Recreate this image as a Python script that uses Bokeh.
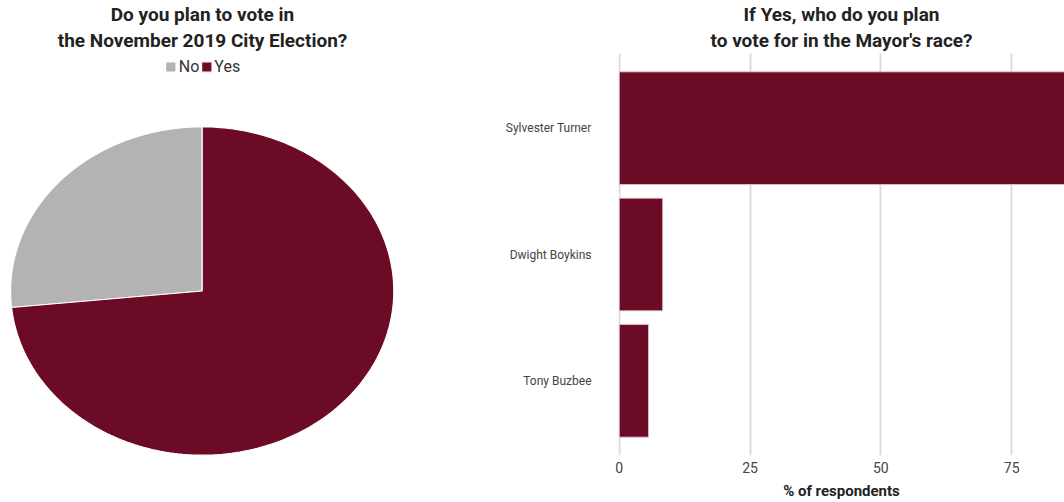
import numpy as np
from bokeh.plotting import figure
from bokeh.layouts import row
from bokeh.models import (Range1d, Legend, LegendItem, FixedTicker, Title,
                          ColumnDataSource)
from bokeh.embed import file_html
from bokeh.resources import INLINE

# ---------------- data ----------------
vote_labels = ["No", "Yes"]
vote_shares = [26.6, 73.4]
vote_colors = ["#b3b3b3", "#6c0b25"]

candidates = ["Sylvester Turner", "Dwight Boykins", "Tony Buzbee"]
candidate_pct = [86.1, 8.3, 5.6]
x_ticks = [0, 25, 50, 75]

pie_title = ["Do you plan to vote in", "the November 2019 City Election?"]
bar_title = ["If Yes, who do you plan", "to vote for in the Mayor's race?"]
x_label = "% of respondents"

FONT = "Roboto"
BAR_COLOR = "#6c0b25"
H, TOP, BOTTOM = 502, 52, 46


def add_titles(p, lines):
    # add lines bottom-up so the first line ends up on top
    for i, line in enumerate(reversed(lines)):
        t = Title(text=line, align="center", text_font=FONT, text_font_size="19px",
                  text_font_style="bold", text_color="#222222",
                  standoff=3 if i == 0 else 0, offset=0)
        p.add_layout(t, "above")


# ---------------- left: pie ----------------
W1 = 404
FH = H - TOP - BOTTOM
p1 = figure(width=W1, height=H, output_backend="svg", toolbar_location=None,
            x_range=Range1d(0, W1), y_range=Range1d(0, FH),
            min_border_left=0, min_border_right=0, min_border_top=TOP,
            min_border_bottom=BOTTOM)
p1.axis.visible = False
p1.grid.visible = False
p1.outline_line_color = None
add_titles(p1, pie_title)

cx, cy, rx, ry = 201.7, 165.3, 191.6, 165.0
fr = np.array(vote_shares) / np.sum(vote_shares)
bounds = np.concatenate([[0], np.cumsum(fr)])
items = []
for i, lab in enumerate(vote_labels):
    a0 = np.pi / 2 + 2 * np.pi * bounds[i]
    a1 = np.pi / 2 + 2 * np.pi * bounds[i + 1]
    th = np.linspace(a0, a1, 200)
    xs = np.concatenate([[cx], cx + rx * np.cos(th), [cx]])
    ys = np.concatenate([[cy], cy + ry * np.sin(th), [cy]])
    r = p1.patch(xs, ys, fill_color=vote_colors[i], line_color="white", line_width=1.2)
    items.append(LegendItem(label=lab, renderers=[r]))

leg = Legend(items=items, orientation="horizontal", location="top_center",
             margin=4, padding=0, spacing=0, label_standoff=2,
             glyph_width=13, glyph_height=13, label_height=16, label_width=10,
             label_text_font=FONT, label_text_font_size="16px",
             label_text_color="#333333", border_line_color=None,
             background_fill_alpha=0)
p1.add_layout(leg, "center")

# ---------------- right: bars ----------------
W2 = 1064 - W1
p2 = figure(width=W2, height=H, output_backend="svg", toolbar_location=None,
            x_range=Range1d(-0.15, 85.1), y_range=Range1d(-0.592, 2.592),
            min_border_left=214, min_border_right=0, min_border_top=TOP,
            min_border_bottom=BOTTOM)
p2.outline_line_color = None
add_titles(p2, bar_title)

ypos = list(range(len(candidates) - 1, -1, -1))
src = ColumnDataSource(dict(y=ypos, v=candidate_pct, name=candidates))
p2.hbar(y="y", right="v", left=0, height=0.893, source=src,
        fill_color=BAR_COLOR, line_color="#e8d0d6", line_width=0.8)

p2.yaxis.ticker = FixedTicker(ticks=ypos)
p2.yaxis.major_label_overrides = {y: n for y, n in zip(ypos, candidates)}
p2.yaxis.axis_line_color = None
p2.yaxis.major_tick_line_color = None
p2.yaxis.major_tick_out = 0
p2.yaxis.major_tick_in = 0
p2.yaxis.minor_tick_line_color = None
p2.yaxis.major_label_text_font = FONT
p2.yaxis.major_label_text_font_size = "12px"
p2.yaxis.major_label_text_color = "#444444"
p2.yaxis.major_label_standoff = 27

p2.xaxis.ticker = FixedTicker(ticks=x_ticks)
p2.xaxis.axis_line_color = None
p2.xaxis.major_tick_line_color = None
p2.xaxis.major_tick_out = 0
p2.xaxis.major_tick_in = 0
p2.xaxis.minor_tick_line_color = None
p2.xaxis.major_label_text_font = FONT
p2.xaxis.major_label_text_font_size = "14px"
p2.xaxis.major_label_text_color = "#444444"
p2.xaxis.major_label_standoff = 6
p2.xaxis.axis_label = x_label
p2.xaxis.axis_label_text_font = FONT
p2.xaxis.axis_label_text_font_size = "15px"
p2.xaxis.axis_label_text_font_style = "bold"
p2.xaxis.axis_label_text_color = "#222222"
p2.xaxis.axis_label_standoff = 6

p2.xgrid.ticker = FixedTicker(ticks=x_ticks)
p2.xgrid.grid_line_color = "#dcdcdc"
p2.xgrid.grid_line_width = 2
p2.ygrid.grid_line_color = None

layout = row(p1, p2)
open("out.html", "w").write(file_html(layout, INLINE))
